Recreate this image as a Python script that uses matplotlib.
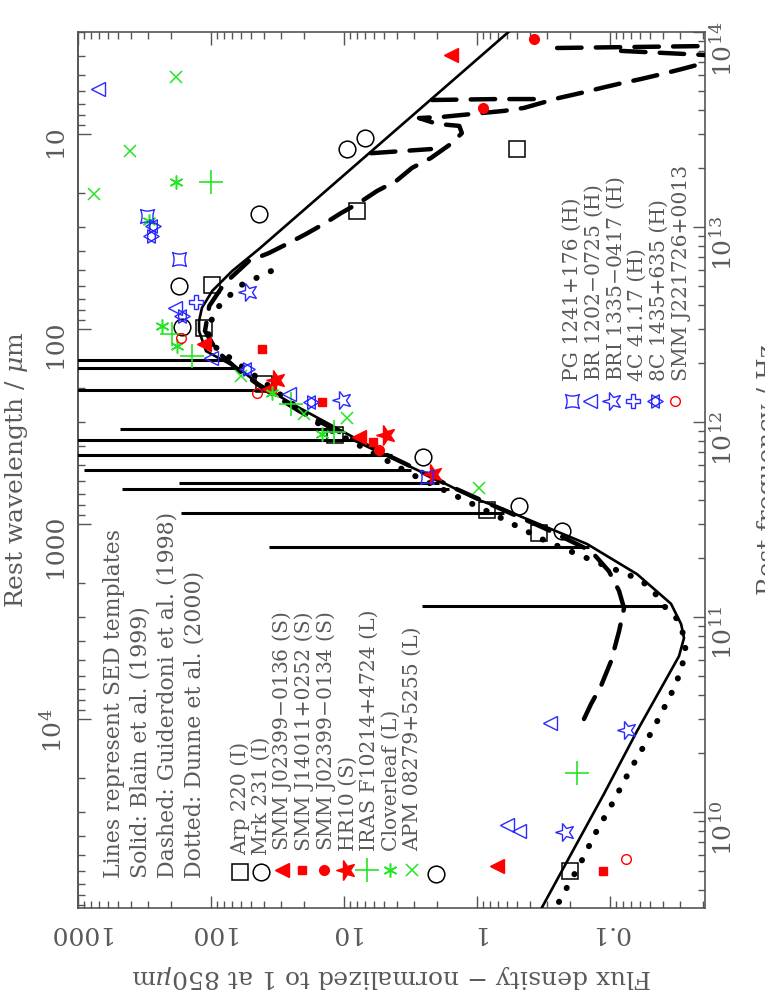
import numpy as np
import matplotlib
matplotlib.use("Agg")
import matplotlib.pyplot as plt
from matplotlib.path import Path
from matplotlib.markers import MarkerStyle
from matplotlib.transforms import Affine2D
from matplotlib.ticker import FuncFormatter, NullFormatter, FixedLocator

plt.rcParams['font.family'] = ['DejaVu Serif']
plt.rcParams['mathtext.fontset'] = 'dejavuserif'

# --- data: rest frequency (Hz) and flux density normalised at 850um ---
# SED templates
solid_nu = [1.0e14, 7.71e12, 5.94e12, 4.70e12, 3.85e12, 3.30e12, 2.93e12, 2.31e12, 1.87e12,
            1.57e12, 1.24e12, 9.0e11, 6.53e11, 5.41e11, 4.03e11, 3.58e11, 3.30e11, 2.37e11,
            1.66e11, 1.17e11, 9.2e10, 7.8e10, 6.3e10, 2.6e10, 1.24e10, 6.1e9, 3.18e9]
solid_s = [0.58, 43.6, 69.5, 98, 117, 123, 123, 109, 61.5,
           43.6, 24.6, 10.4, 4.36, 2.42, 1.02, 0.63, 0.48, 0.149,
           0.0627, 0.0348, 0.0292, 0.0278, 0.0303, 0.0627, 0.111, 0.196, 0.330]

# line spikes on the Blain et al. template
line_nu = [2.08e12, 1.89e12, 1.46e12, 9.2e11, 8.09e11, 6.78e11, 5.68e11, 4.86e11, 4.53e11,
           3.41e11, 2.29e11, 1.14e11]
line_top = [3000, 3000, 3000, 483, 3000, 3000, 901, 174, 467, 168, 36.6, 2.59]
line_base = [79.8, 61.5, 35.4, 10.9, 7.7, 4.36, 3.13, 1.93, 1.63, 0.63, 0.144, 0.0373]

dash_a_nu = [3.0e10, 3.58e10, 4.43e10, 5.94e10, 8.47e10, 1.11e11, 1.36e11, 1.72e11, 2.18e11,
             2.86e11, 3.62e11, 4.59e11, 6.16e11, 8.38e11, 1.14e12, 1.48e12, 1.83e12, 2.31e12,
             2.93e12, 3.94e12, 5.10e12, 6.70e12, 7.36e12, 8.19e12, 9.21e12, 1.04e13, 1.18e13,
             1.33e13, 1.53e13, 1.72e13, 2.01e13, 2.26e13, 2.67e13, 3.03e13, 3.30e13, 3.38e13,
             3.62e13, 3.67e13, 3.94e13, 4.08e13, 4.59e13, 4.87e13, 5.16e13, 5.47e13, 5.74e13,
             6.09e13, 6.46e13, 6.93e13, 7.54e13]
dash_a_s = [0.157, 0.139, 0.117, 0.0982, 0.0855, 0.0785, 0.0855, 0.102, 0.139,
            0.313, 0.684, 1.49, 3.54, 9.16, 21.8, 40.0, 61.5, 90.2,
            111, 103, 79.8, 51.8, 36.6, 26.8, 19.3, 14.1, 10.5,
            7.71, 5.65, 4.06, 3.08, 2.22, 1.57, 1.30, 1.36, 2.0,
            2.73, 1.83, 0.627, 0.444, 0.242, 0.165, 0.117, 0.0813, 0.0585,
            0.0406, 0.0288, 0.0196, 0.0127]
dash_b_nu = [2.39e13, 2.51e13]
dash_b_s = [6.27, 2.22]
dash_c_nu = [4.48e13, 4.53e13, 4.53e13]
dash_c_s = [2.18, 0.708, 0.354]
dash_d_nu = [8.28e13, 8.47e13]
dash_d_s = [0.250, 0.0196]
dash_e_nu = [8.0e13, 7.71e13, 7.6e13]
dash_e_s = [0.0826, 0.0269, 0.018]

dot_nu = [5.94e12, 4.98e12, 3.79e12, 2.93e12, 2.45e12, 2.06e12, 1.53e12, 9.77e11, 7.36e11,
          5.41e11, 4.18e11, 3.22e11, 2.45e11, 1.89e11, 1.58e11, 1.41e11, 1.11e11, 9.77e10,
          8.0e10, 6.53e10, 4.53e10, 3.18e10, 2.23e10, 1.57e10, 1.10e10, 7.7e9, 5.41e9,
          3.79e9, 3.18e9]
dot_s = [35.4, 61.5, 91.6, 107, 94.8, 67.1, 36.6, 15.4, 7.08,
         3.13, 1.44, 0.66, 0.303, 0.121, 0.0627, 0.0492, 0.0380, 0.0313,
         0.0278, 0.0269, 0.0319, 0.0414, 0.0546, 0.0733, 0.0966, 0.130, 0.168,
         0.225, 0.259]

# observed galaxies
arp220_nu = [5.05e12, 3.03e12, 1.57e12, 8.6e11, 3.54e11, 2.7e11, 1.21e13, 2.51e13, 4.98e9]
arp220_s = [98, 113, 40, 11.7, 0.84, 0.34, 8.0, 0.50, 0.20]
mrk231_nu = [1.17e13, 4.98e12, 3.07e12, 2.51e13, 2.86e13, 6.6e11, 3.71e11, 2.76e11, 4.8e9]
mrk231_s = [43.5, 174, 165, 9.5, 6.95, 2.55, 0.48, 0.23, 2.03]
smm0136_nu = [7.62e13, 2.51e12, 1.48e12, 8.4e11, 5.3e9]
smm0136_s = [1.57, 113, 36.6, 7.7, 0.71]
smm14011_nu = [2.37e12, 1.27e12, 7.9e11, 4.98e9]
smm14011_s = [41.4, 14.6, 6.05, 0.113]
smm0134_nu = [9.2e13, 4.07e13, 7.18e11]
smm0134_s = [0.37, 0.90, 5.46]
hr10_nu = [1.64e12, 8.57e11, 5.4e11]
hr10_s = [32.4, 4.83, 2.14]
iras_nu = [1.70e13, 2.83e12, 2.18e12, 1.24e12, 8.9e11, 1.58e10]
iras_s = [100, 196, 139, 25, 11.9, 0.177]
clover_nu = [1.70e13, 1.07e13, 2.45e12, 1.41e12, 8.67e11, 3.1e12]
clover_s = [183, 292, 180, 34.8, 14.6, 233]
apm_nu = [5.87e13, 2.45e13, 1.48e13, 1.72e12, 1.10e12, 1.05e12, 4.59e11]
apm_s = [183, 406, 758, 59.4, 20.0, 9.5, 0.966]
pg1241_nu = [1.14e13, 6.86e12, 5.23e11]
pg1241_s = [303, 174, 2.38]
br1202_nu = [5.1e13, 3.85e12, 2.13e12, 1.39e12, 2.86e10, 8.57e9, 8.0e9]
br1202_s = [708, 187, 100, 25.9, 0.282, 0.594, 0.483]
bri1335_nu = [4.64e12, 1.30e12, 2.64e10, 7.9e9]
bri1335_s = [52.7, 10.4, 0.0745, 0.218]
c4117_nu = [4.12e12]
c4117_s = [130]
c81435_nu = [1.01e13, 9.0e12, 3.5e12, 1.87e12, 1.27e12]
c81435_s = [273, 282, 165, 53.6, 17.7]
smm2217_nu = [2.70e12, 1.41e12, 5.74e9]
smm2217_s = [168, 45.1, 0.0759]

# wavelength axis ticks (um)
lam_major = [10, 100, 1000, 1e4]
lam_minor = [m * d for d in (1, 10, 100, 1000, 1e4) for m in range(2, 10)]

W, H = 765, 990
TXT = '#5a5a5a'
AXC = '#555555'
RED = '#ff0000'
GRN = '#22e622'
BLU = '#2a2aff'


def fx(x):
    return x / W


def fy(y):
    return 1 - y / H


# custom symbols
concave_sq = Path([(1, 1), (0, 0.55), (-1, 1), (-0.55, 0), (-1, -1), (0, -0.55), (1, -1),
                   (0.55, 0), (1, 1), (1, 1)],
                  [Path.MOVETO] + [Path.CURVE3] * 8 + [Path.CLOSEPOLY])
t1 = [(np.cos(np.radians(a)), np.sin(np.radians(a))) for a in (0, 120, 240)]
t2 = [(np.cos(np.radians(a)), np.sin(np.radians(a))) for a in (180, 300, 60)]
hexagram = Path(t1 + [t1[0]] + t2 + [t2[0]],
                [Path.MOVETO, Path.LINETO, Path.LINETO, Path.CLOSEPOLY] * 2)
star_left = MarkerStyle('*', transform=Affine2D().rotate_deg(90))

styles = {
    'arp220': dict(marker='s', ms=11.5, mfc='none', mec='k', mew=1.1),
    'mrk231': dict(marker='o', ms=12, mfc='none', mec='k', mew=1.1),
    'smm0136': dict(marker='<', ms=10, mfc=RED, mec=RED, mew=1),
    'smm14011': dict(marker='s', ms=6, mfc=RED, mec=RED, mew=1),
    'smm0134': dict(marker='o', ms=7, mfc=RED, mec=RED, mew=1),
    'hr10': dict(marker=star_left, ms=15, mfc=RED, mec=RED, mew=1),
    'iras': dict(marker='+', ms=17, mec=GRN, mew=1.2),
    'clover': dict(marker=(6, 2, 0), ms=10, mec=GRN, mew=1.1),
    'apm': dict(marker='x', ms=8, mec=GRN, mew=1.1),
    'pg1241': dict(marker=concave_sq, ms=10, mfc='none', mec=BLU, mew=1),
    'br1202': dict(marker='<', ms=10, mfc='none', mec=BLU, mew=1),
    'bri1335': dict(marker=star_left, ms=14, mfc='none', mec=BLU, mew=1),
    'c4117': dict(marker='P', ms=10, mfc='none', mec=BLU, mew=1),
    'c81435': dict(marker=hexagram, ms=11, mfc='none', mec=BLU, mew=1),
    'smm2217': dict(marker='o', ms=7, mfc='none', mec=RED, mew=1),
}
series = [('arp220', arp220_nu, arp220_s), ('mrk231', mrk231_nu, mrk231_s),
          ('smm0136', smm0136_nu, smm0136_s), ('smm14011', smm14011_nu, smm14011_s),
          ('smm0134', smm0134_nu, smm0134_s), ('hr10', hr10_nu, hr10_s),
          ('iras', iras_nu, iras_s), ('clover', clover_nu, clover_s), ('apm', apm_nu, apm_s),
          ('pg1241', pg1241_nu, pg1241_s), ('br1202', br1202_nu, br1202_s),
          ('bri1335', bri1335_nu, bri1335_s), ('c4117', c4117_nu, c4117_s),
          ('c81435', c81435_nu, c81435_s), ('smm2217', smm2217_nu, smm2217_s)]

fig = plt.figure(figsize=(W / 100, H / 100), dpi=100)
ax = fig.add_axes([fx(78), fy(908), (705 - 78) / W, (908 - 32) / H])
ax.set_xscale('log')
ax.set_yscale('log')
ax.set_xlim(1000, 10 ** -1.714)
ax.set_ylim(10 ** 9.508, 1e14)

# templates (flux on x, frequency on y: the page is turned)
ax.plot(solid_s, solid_nu, color='k', lw=1.9, zorder=3)
ax.hlines(line_nu, line_top, line_base, color='k', lw=2.2, zorder=3)
for nu, s in [(dash_a_nu, dash_a_s), (dash_b_nu, dash_b_s), (dash_c_nu, dash_c_s),
              (dash_d_nu, dash_d_s), (dash_e_nu, dash_e_s)]:
    ax.plot(s, nu, color='k', lw=3.2, ls=(0, (5.5, 3.2)), solid_capstyle='round',
            dash_capstyle='round', zorder=3)
ax.plot(dot_s, dot_nu, color='k', lw=4.3, ls=(0, (0.05, 2.6)), dash_capstyle='round', zorder=3)

for key, nu, s in series:
    ax.plot(s, nu, ls='none', zorder=4, **styles[key])

# axes cosmetics
for sp in ax.spines.values():
    sp.set_color(AXC)
    sp.set_linewidth(1.2)
ax.tick_params(axis='x', which='both', direction='in', top=True, bottom=True,
               colors=AXC, labelcolor=TXT, labelsize=18, labelrotation=180, pad=9)
ax.tick_params(axis='x', which='major', length=9, width=1)
ax.tick_params(axis='x', which='minor', length=5, width=1)
ax.xaxis.set_major_formatter(FuncFormatter(lambda v, p: '%g' % v))
ax.xaxis.set_minor_formatter(NullFormatter())

ax.yaxis.tick_right()
ax.tick_params(axis='y', which='both', direction='in', left=False, right=True,
               labelleft=False, labelright=True, colors=AXC, labelcolor=TXT,
               labelsize=18, labelrotation=90, pad=4)
ax.tick_params(axis='y', which='major', length=9, width=1)
ax.tick_params(axis='y', which='minor', length=5, width=1)
ax.yaxis.set_minor_formatter(NullFormatter())


def nu2lam(nu):
    return 2.998e14 / np.asarray(nu, dtype=float)


sec = ax.secondary_yaxis('left', functions=(nu2lam, nu2lam))
sec.spines['left'].set_color(AXC)
sec.spines['left'].set_linewidth(1.2)
sec.yaxis.set_major_locator(FixedLocator(lam_major))
sec.yaxis.set_minor_locator(FixedLocator(lam_minor))
sec.tick_params(axis='y', which='both', direction='in', colors=AXC, labelcolor=TXT,
                labelsize=18, labelrotation=90, pad=8)
sec.tick_params(axis='y', which='major', length=9, width=1)
sec.tick_params(axis='y', which='minor', length=5, width=1)
sec.yaxis.set_major_formatter(FuncFormatter(
    lambda v, p: ('%d' % round(v)) if v < 1e4 else r'$10^{%d}$' % round(np.log10(v))))
sec.yaxis.set_minor_formatter(NullFormatter())

# axis titles (the frequency title runs off the right edge, as in the original page)
fig.text(fx(23), fy(470), r'Rest wavelength / $\mu$m', rotation=90, rotation_mode='anchor',
         ha='center', va='baseline', fontsize=18, color=TXT)
fig.text(fx(775), fy(470), 'Rest frequency / Hz', rotation=90, rotation_mode='anchor',
         ha='center', va='baseline', fontsize=18, color=TXT)
fig.text(fx(392), fy(970), r'Flux density $-$ normalized to 1 at 850$\mu$m', rotation=180,
         rotation_mode='anchor', ha='center', va='baseline', fontsize=18, color=TXT)

# legend
head = ['Lines represent SED templates', 'Solid: Blain et al. (1999)',
        'Dashed: Guiderdoni et al. (1998)', 'Dotted: Dunne et al. (2000)']
for xb, t in zip([120, 147, 173.5, 200], head):
    fig.text(fx(xb), fy(878), t, rotation=90, rotation_mode='anchor', ha='left',
             va='baseline', fontsize=15.8, color=TXT)


def legend_row(xb, ytxt, xm, ym, keys, label):
    for i, k in enumerate(keys):
        ax.plot([fx(xm[i])], [fy(ym)], transform=fig.transFigure, clip_on=False,
                ls='none', **styles[k])
    fig.text(fx(xb), fy(ytxt), label, rotation=90, rotation_mode='anchor', ha='left',
             va='baseline', fontsize=14.6, color=TXT)


legend_row(246, 855, [240], 872, ['arp220'], 'Arp 220 (I)')
legend_row(267, 855, [261], 872, ['mrk231'], 'Mrk 231 (I)')
legend_row(288, 851, [282], 870, ['smm0136'], r'SMM J02399$-$0136 (S)')
legend_row(310, 851, [302], 870, ['smm14011'], 'SMM J14011+0252 (S)')
legend_row(332, 851, [324], 870, ['smm0134'], r'SMM J02399$-$0134 (S)')
legend_row(354, 851, [346], 870, ['hr10'], 'HR10 (S)')
legend_row(375, 851, [367], 870, ['iras'], 'IRAS F10214+4724 (L)')
legend_row(397, 851, [390], 870, ['clover'], 'Cloverleaf (L)')
legend_row(418, 851, [412], 870, ['apm'], 'APM 08279+5255 (L)')

legend_row(578, 381, [572], 401, ['pg1241'], 'PG 1241+176 (H)')
legend_row(600, 381, [590], 401, ['br1202'], r'BR 1202$-$0725 (H)')
legend_row(622, 381, [612], 401, ['bri1335'], r'BRI 1335$-$0417 (H)')
legend_row(643, 381, [633], 401, ['c4117'], '4C 41.17 (H)')
legend_row(665, 381, [655], 401, ['c81435'], '8C 1435+635 (H)')
legend_row(687, 381, [675], 401, ['smm2217'], 'SMM J221726+0013')

fig.savefig('out.png', dpi=100)
